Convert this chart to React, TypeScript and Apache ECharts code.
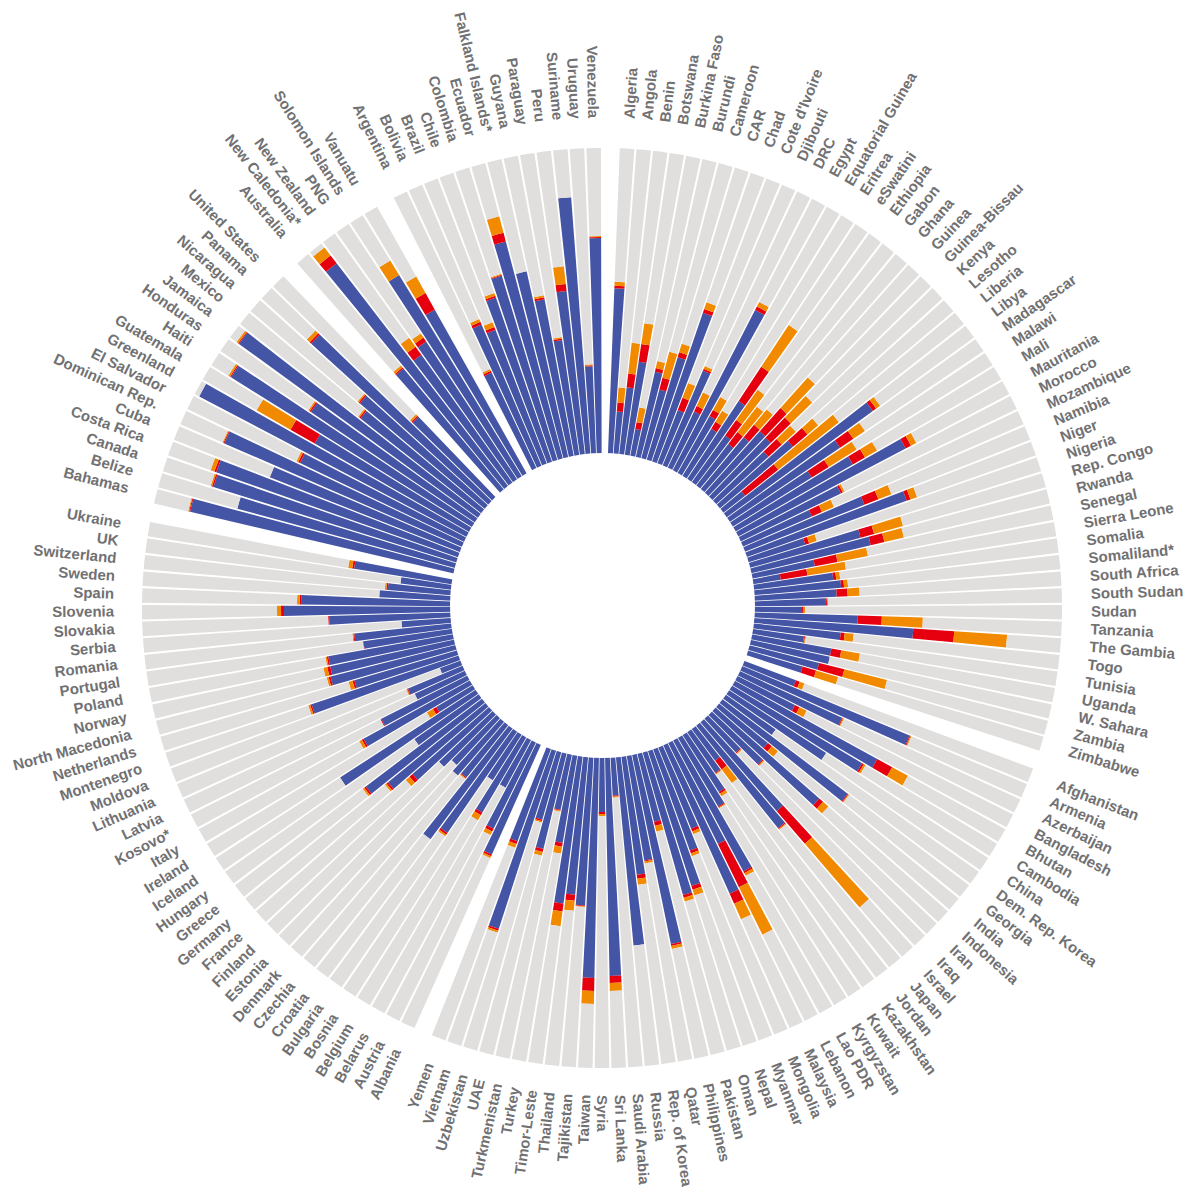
import { useEffect, useRef } from "react"
import * as echarts from "echarts"

const africa = ["Algeria", "Angola", "Benin", "Botswana", "Burkina Faso", "Burundi", "Cameroon", "CAR", "Chad", "Cote d'Ivoire", "Djibouti", "DRC", "Egypt", "Equatorial Guinea", "Eritrea", "eSwatini", "Ethiopia", "Gabon", "Ghana", "Guinea", "Guinea-Bissau", "Kenya", "Lesotho", "Liberia", "Libya", "Madagascar", "Malawi", "Mali", "Mauritania", "Morocco", "Mozambique", "Namibia", "Niger", "Nigeria", "Rep. Congo", "Rwanda", "Senegal", "Sierra Leone", "Somalia", "Somaliland*", "South Africa", "South Sudan", "Sudan", "Tanzania", "The Gambia", "Togo", "Tunisia", "Uganda", "W. Sahara", "Zambia", "Zimbabwe"]
const asia = ["Afghanistan", "Armenia", "Azerbaijan", "Bangladesh", "Bhutan", "Cambodia", "China", "Dem. Rep. Korea", "Georgia", "India", "Indonesia", "Iran", "Iraq", "Israel", "Japan", "Jordan", "Kazakhstan", "Kuwait", "Kyrgyzstan", "Lao PDR", "Lebanon", "Malaysia", "Mongolia", "Myanmar", "Nepal", "Oman", "Pakistan", "Philippines", "Qatar", "Rep. of Korea", "Russia", "Saudi Arabia", "Sri Lanka", "Syria", "Taiwan", "Tajikistan", "Thailand", "Timor-Leste", "Turkey", "Turkmenistan", "UAE", "Uzbekistan", "Vietnam", "Yemen"]
const europe = ["Albania", "Austria", "Belarus", "Belgium", "Bosnia", "Bulgaria", "Croatia", "Czechia", "Denmark", "Estonia", "Finland", "France", "Germany", "Greece", "Hungary", "Iceland", "Ireland", "Italy", "Kosovo*", "Latvia", "Lithuania", "Moldova", "Montenegro", "Netherlands", "North Macedonia", "Norway", "Poland", "Portugal", "Romania", "Serbia", "Slovakia", "Slovenia", "Spain", "Sweden", "Switzerland", "UK", "Ukraine"]
const northAmerica = ["Bahamas", "Belize", "Canada", "Costa Rica", "Cuba", "Dominican Rep.", "El Salvador", "Greenland", "Guatemala", "Haiti", "Honduras", "Jamaica", "Mexico", "Nicaragua", "Panama", "United States"]
const oceania = ["Australia", "New Caledonia*", "New Zealand", "PNG", "Solomon Islands", "Vanuatu"]
const southAmerica = ["Argentina", "Bolivia", "Brazil", "Chile", "Colombia", "Ecuador", "Falkland Islands*", "Guyana", "Paraguay", "Peru", "Suriname", "Uruguay", "Venezuela"]

// same order as the country lists, one line per region
const blueValues = [
  170, 47, 72, 99, 32, 92, 76, 112, 162, 62, 108, 67, 185, 70, 60, 98, 62, 57, 72, 87, 86, 75, 100, 32, 185, 137, 97, 139, 193, 115, 79, 132, 173, 63, 118, 126, 67, 31, 83, 90, 85, 74, 50, 106, 162, 90, 54, 83, 83, 74, 59,
  57, 183, 114, 66, 164, 153, 117, 62, 158, 64, 139, 71, 47, 118, 132, 40, 50, 68, 80, 149, 113, 163, 88, 108, 142, 148, 70, 193, 106, 119, 189, 38, 218, 54, 220, 148, 138, 148, 88, 56, 98, 70, 187, 98,
  120, 96, 54, 87, 54, 123, 138, 67, 71, 64, 74, 102, 126, 146, 79, 162, 43, 122, 97, 56, 60, 23, 156, 108, 130, 128, 128, 91, 99, 51, 123, 168, 151, 73, 65, 53, 101,
  273, 228, 257, 259, 207, 262, 185, 305, 181, 287, 201, 299, 157, 167, 243, 115,
  161, 285, 161, 169, 240, 192,
  110, 158, 148, 178, 197, 229, 195, 164, 121, 169, 262, 92, 220,
]
const redValues = [
  2.5, 9, 14, 18, 7, 4, 12, 5, 4, 13, 2, 6, 4, 7, 8, 41, 19, 15, 16, 31, 28, 18, 19, 42, 4, 16, 20, 14, 6, 2, 11, 15, 4, 4, 14, 14, 23, 27, 3, 3, 11, 1, 1, 24, 41, 4, 1, 10, 0, 26, 14,
  4, 1, 1, 5, 17, 2, 0, 0, 1, 5, 5, 1, 1, 43, 1, 11, 1, 2, 1, 2, 48, 11, 3, 3, 4, 3, 4, 2, 1, 4, 0, 1, 7, 2, 13, 0.7, 6, 8, 4, 1, 3, 1.5, 2, 3,
  2, 3, 0, 3, 0, 2, 0, 1, 0, 0, 0, 4, 2, 2, 0, 0, 4, 2, 1, 0, 1, 0, 1.5, 2, 2, 3, 1.5, 0.5, 1, 0, 1, 3, 1.5, 0, 1.5, 0, 2,
  1, 0, 1.5, 2, 0, 1, 2, 0, 28, 1, 1.5, 1, 1.5, 1.5, 2, 1.5,
  1.5, 10, 10, 5, 0, 19,
  2, 3, 3, 2, 1, 9, 0, 2, 1.5, 7, 0, 1, 1,
]
const orangeValues = [
  4, 15, 31, 21, 15, 7, 27, 9, 7, 16, 3, 15, 5, 15, 13, 50, 37, 32, 20, 41, 30, 19, 14, 77, 5, 14, 33, 14, 6, 2, 13, 14, 7, 8, 30, 20, 31, 39, 4, 4, 12, 1, 2, 41, 53, 9, 1, 19, 0, 44, 23,
  5, 1, 1, 8, 18, 2, 0, 0, 1, 8, 7, 1, 1, 84, 1, 17, 1, 3, 1, 3, 53, 17, 3, 3, 6, 4, 6, 3, 2, 6, 0, 1, 8, 2, 13, 0.7, 10, 15, 7, 1, 4, 1.5, 2, 4,
  2, 4, 0, 6, 0, 2, 0, 1, 0, 0, 0, 5, 2, 2, 0, 0, 7, 3, 0, 0, 1, 0, 2, 4, 2, 4, 1.5, 0, 1, 0, 0, 4, 2.5, 0, 1.5, 0, 4,
  1, 0, 1.5, 4, 0, 1, 2, 0, 39, 2, 1.5, 2, 1.5, 1.5, 4, 2,
  2.5, 10, 11, 5, 17, 19,
  2, 3, 5, 3, 1, 17, 0, 2, 1.5, 18, 0, 1, 1,
]

const FULL_SCALE = 310
// the hole in the middle is not quite concentric, so bars start a little
// further in and a white disc trims them
const INNER_PAD = 10
const LABEL_RADIUS = 348.5

// an empty slot goes in front of every region
const regions = [africa, asia, europe, northAmerica, oceania, southAmerica]
const slots = regions.flatMap((r) => ["", ...r])

function toSlots(values: number[]) {
  let k = 0
  return slots.map((name) => (name ? values[k++] : null))
}

const blue = toSlots(blueValues)
const red = toSlots(redValues)
const orange = toSlots(orangeValues)
const rest = slots.map((_, i) =>
  blue[i] == null ? null : FULL_SCALE - blue[i]! - red[i]! - orange[i]!,
)
const labelRows = slots
  .map((name, i) => ({ name, i }))
  .filter((d) => d.name)

const CENTER_X = 602
const CENTER_Y = 608

function stackSeries(name: string, data: (number | null)[], color: string) {
  return {
    name,
    type: "bar",
    coordinateSystem: "polar",
    stack: "total",
    barWidth: "87%",
    silent: true,
    data,
    itemStyle: { color },
  }
}

export default function App() {
  const ref = useRef<HTMLDivElement>(null)

  useEffect(() => {
    if (!ref.current) return
    const chart = echarts.init(ref.current, null, { renderer: "svg" })
    chart.setOption({
      animation: false,
      backgroundColor: "#ffffff",
      polar: { center: [CENTER_X, CENTER_Y], radius: [140, 460] },
      angleAxis: {
        type: "category",
        data: slots,
        startAngle: 90,
        clockwise: true,
        axisLine: { show: false },
        axisTick: { show: false },
        axisLabel: { show: false },
        splitLine: { show: false },
      },
      radiusAxis: {
        type: "value",
        min: 0,
        max: FULL_SCALE + INNER_PAD,
        axisLine: { show: false },
        axisTick: { show: false },
        axisLabel: { show: false },
        splitLine: { show: false },
      },
      graphic: [
        {
          type: "circle",
          z: 10,
          silent: true,
          shape: { cx: 602.5, cy: 605.5, r: 152.5 },
          style: { fill: "#ffffff" },
        },
      ],
      series: [
        stackSeries("blue", blue.map((v) => (v == null ? null : v + INNER_PAD)), "#4555a5"),
        stackSeries("red", red, "#e6000f"),
        stackSeries("orange", orange, "#f28a00"),
        stackSeries("rest", rest, "#e0dfdd"),
        {
          type: "custom",
          coordinateSystem: "polar",
          silent: true,
          data: labelRows.map((d) => [LABEL_RADIUS, d.i]),
          renderItem: (params: any, api: any) => {
            const [x, y] = api.coord([api.value(0), api.value(1)])
            const theta = Math.atan2(x - CENTER_X, CENTER_Y - y)
            const deg = ((theta * 180) / Math.PI + 360) % 360
            const right = deg <= 180.5
            const rotation = ((right ? 90 - deg : 270 - deg) * Math.PI) / 180
            return {
              type: "text",
              x: x + 0.5,
              y: y - 1.5,
              rotation,
              style: {
                text: labelRows[params.dataIndex].name,
                align: right ? "left" : "right",
                verticalAlign: "middle",
                fontFamily: "Liberation Sans",
                fontWeight: "bold",
                fontSize: 15,
                fill: "#717173",
              },
            }
          },
        },
      ],
    })
    return () => chart.dispose()
  }, [])

  return (
    <div
      ref={ref}
      style={{ position: "absolute", left: 0, top: 0, width: 1200, height: 1198 }}
    />
  )
}
